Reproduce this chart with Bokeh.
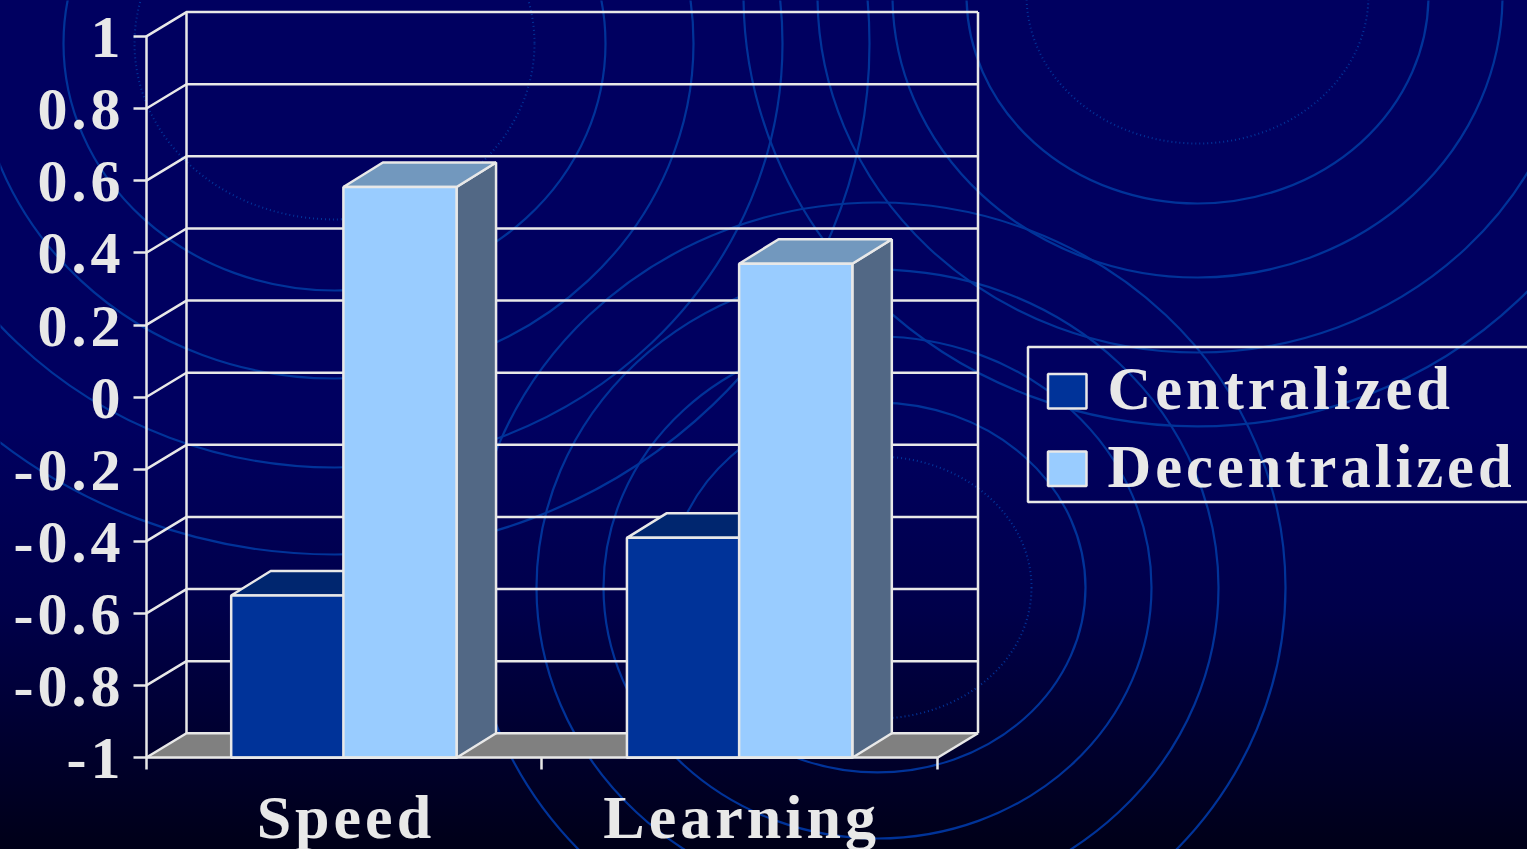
from bokeh.core.properties import value
from bokeh.embed import file_html
from bokeh.models import FixedTicker, LinearAxis, Range1d
from bokeh.plotting import figure
from bokeh.resources import INLINE

# Chart data
categories = ["Speed", "Learning"]
series_names = ["Centralized", "Decentralized"]
centralized = [-0.55, -0.39]
decentralized = [0.583, 0.37]
y_ticks = [-1, -0.8, -0.6, -0.4, -0.2, 0, 0.2, 0.4, 0.6, 0.8, 1]
y_tick_labels = ["-1", "-0.8", "-0.6", "-0.4", "-0.2", "0", "0.2", "0.4", "0.6", "0.8", "1"]

# Canvas geometry: one category spans PX_X pixels, one value unit spans PX_Y pixels
W, H = 1527, 849
PX_X, PX_Y = 395.75, 360.6
ORIGIN_X, ZERO_Y = 145.5, 396.7
DEPTH_X, DEPTH_Y = 40.5 / PX_X, 24.5 / PX_Y
BAR_DEPTH_X = 39.5 / PX_X
BAR_W = 0.286
BAR_SHIFT = -0.5 / PX_X
LETTER_SPACING = 4

INK = "#E8E8E8"
EDGE = 2.5
FONT = value("Liberation Serif")
SIZE = "60px"


def sx(px):
    return (px - ORIGIN_X) / PX_X


def sy(py):
    return (ZERO_Y - py) / PX_Y


p = figure(
    width=W, height=H, output_backend="svg", toolbar_location=None,
    x_range=Range1d(sx(0), sx(W)), y_range=Range1d(sy(H), sy(0)),
    x_axis_location=None, y_axis_location=None,
    min_border=0, min_border_left=0, min_border_right=0, min_border_top=0, min_border_bottom=0,
    background_fill_color=None, border_fill_color=None, outline_line_color=None,
)
p.grid.visible = False
p.styles = {
    "background": "linear-gradient(to bottom, #000060 0%, #000060 50%, #00004a 72%, #000018 100%)",
    "letter-spacing": f"{LETTER_SPACING}px",
}

# Decorative oval ripples behind the chart:
# (centre x, centre y, half-width minus half-height, dotted half-height, solid half-heights)
RIPPLES = [
    (334, 43, 24, 176, [247, 335, 424, 511]),
    (1197, -5, 23, 148, [208, 282, 357, 431]),
    (877, 587, 23, 131, [185, 251, 318, 385]),
]
RIPPLE_BLUE = "#003399"
for cx, cy, extra, dotted, solids in RIPPLES:
    p.ellipse([sx(cx)], [sy(cy)], width=[2 * (dotted + extra) / PX_X], height=[2 * dotted / PX_Y],
              fill_color=None, line_color=RIPPLE_BLUE, line_width=2, line_dash="1 3")
    p.ellipse([sx(cx)] * len(solids), [sy(cy)] * len(solids),
              width=[2 * (b + extra) / PX_X for b in solids],
              height=[2 * b / PX_Y for b in solids],
              fill_color=None, line_color=RIPPLE_BLUE, line_width=2.2)

# Floor of the 3D box
p.patch([0, DEPTH_X, 2 + DEPTH_X, 2], [-1, -1 + DEPTH_Y, -1 + DEPTH_Y, -1],
        fill_color="#808080", line_color="#808080", line_width=1)

# Back wall grid, side wall diagonals and box edges
grid_xs, grid_ys = [], []
for t in y_ticks:
    grid_xs.append([0, DEPTH_X, 2 + DEPTH_X])
    grid_ys.append([t, t + DEPTH_Y, t + DEPTH_Y])
grid_xs += [[DEPTH_X, DEPTH_X], [2 + DEPTH_X, 2 + DEPTH_X], [2, 2 + DEPTH_X]]
grid_ys += [[-1 + DEPTH_Y, 1 + DEPTH_Y], [-1 + DEPTH_Y, 1 + DEPTH_Y], [-1, -1 + DEPTH_Y]]
p.multi_line(grid_xs, grid_ys, line_color=INK, line_width=EDGE)


def draw_bar(left, val, front, top, side):
    right = left + BAR_W
    p.patch([right, right + BAR_DEPTH_X, right + BAR_DEPTH_X, right],
            [-1, -1 + DEPTH_Y, val + DEPTH_Y, val],
            fill_color=side, line_color=INK, line_width=EDGE)
    p.patch([left, left + BAR_DEPTH_X, right + BAR_DEPTH_X, right],
            [val, val + DEPTH_Y, val + DEPTH_Y, val],
            fill_color=top, line_color=INK, line_width=EDGE)
    p.quad(left=[left], right=[right], bottom=[-1], top=[val],
           fill_color=front, line_color=INK, line_width=EDGE)


COLORS = {
    "Centralized": ("#003399", "#00266F", "#00205A"),
    "Decentralized": ("#99CCFF", "#7298BE", "#526885"),
}

for i, _ in enumerate(categories):
    mid = i + 0.5 + BAR_SHIFT
    draw_bar(mid - BAR_W + 1 / PX_X, centralized[i], *COLORS["Centralized"])
    draw_bar(mid, decentralized[i], *COLORS["Decentralized"])

# Axes sit inside the canvas at the front corner of the box
y_axis = LinearAxis(
    fixed_location=0, bounds=(-1, 1),
    ticker=FixedTicker(ticks=y_ticks),
    major_label_overrides={t: "" for t in y_ticks},
    axis_line_color=INK, axis_line_width=EDGE,
    major_tick_line_color=INK, major_tick_line_width=EDGE,
    major_tick_out=13, major_tick_in=0, minor_tick_line_color=None,
)
p.add_layout(y_axis, "left")

x_axis = LinearAxis(
    fixed_location=-1, bounds=(0, 2),
    ticker=FixedTicker(ticks=[0, 1, 2]),
    major_label_overrides={t: "" for t in [0, 1, 2]},
    axis_line_color=INK, axis_line_width=EDGE,
    major_tick_line_color=INK, major_tick_line_width=EDGE,
    major_tick_out=12, major_tick_in=0, minor_tick_line_color=None,
)
p.add_layout(x_axis, "below")

# Value labels end at one right edge; the letter spacing is not part of the measured
# width, so each label is pulled left by the spacing it adds.
p.text([0] * len(y_ticks), y_ticks, text=y_tick_labels,
       x_offset=[-25.5 - LETTER_SPACING * (len(s) - 1) for s in y_tick_labels], y_offset=[1] * len(y_ticks),
       text_color=INK, text_font=FONT, text_font_style="bold", text_font_size=SIZE,
       text_align="right", text_baseline="middle")

# Category names are centred on their clusters, with the same correction
cat_ticks = [i + 0.5 - (len(c) * LETTER_SPACING / 2 - 2) / PX_X for i, c in enumerate(categories)]
cat_axis = LinearAxis(
    fixed_location=-1,
    ticker=FixedTicker(ticks=cat_ticks),
    major_label_overrides=dict(zip(cat_ticks, categories)),
    axis_line_color=None, major_tick_line_color=None, minor_tick_line_color=None,
    major_label_text_color=INK, major_label_text_font="Liberation Serif",
    major_label_text_font_style="bold", major_label_text_font_size="62px",
    major_label_standoff=19,
)
p.add_layout(cat_axis, "below")

# Legend box, running off the right edge of the canvas
p.quad(left=[sx(1027.5)], right=[sx(W + 20)], top=[sy(346.5)], bottom=[sy(501.5)],
       fill_color=None, line_color=INK, line_width=EDGE)
SWATCH_TOPS = [373.5, 451]
TEXT_ANCHORS = [388, 466]
for name, st, anchor in zip(series_names, SWATCH_TOPS, TEXT_ANCHORS):
    p.quad(left=[sx(1047.5)], right=[sx(1086)], top=[sy(st)], bottom=[sy(st + 34.5)],
           fill_color=COLORS[name][0], line_color=INK, line_width=EDGE)
    p.text([sx(1107)], [sy(anchor)], text=[name], text_color=INK, text_font=FONT,
           text_font_style="bold", text_font_size="60.5px",
           text_align="left", text_baseline="alphabetic")

open("out.html", "w").write(file_html(p, INLINE))
